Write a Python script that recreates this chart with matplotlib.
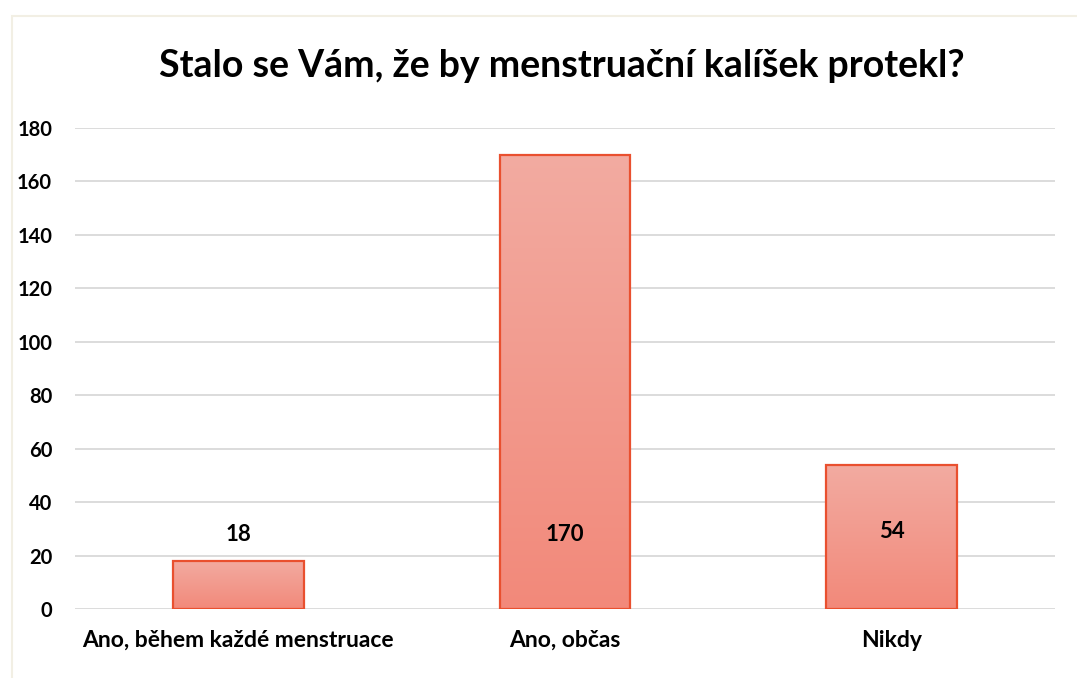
import numpy as np
import matplotlib
matplotlib.use("Agg")
import matplotlib.pyplot as plt
from matplotlib.patches import Rectangle
from matplotlib.colors import LinearSegmentedColormap

# data
categories = ["Ano, během každé menstruace", "Ano, občas", "Nikdy"]
counts = [18, 170, 54]
label_y = [27.7, 27.7, 29.0]   # where the value labels sit (data units)
yticks = [0, 20, 40, 60, 80, 100, 120, 140, 160, 180]

plt.rcParams['font.family'] = ['Lato', 'DejaVu Sans']

W, H = 1077, 678
fig = plt.figure(figsize=(W / 100, H / 100), dpi=100)

# thin frame around the chart area
fig.patches.append(Rectangle((12 / W, -0.1), 1.2, (H - 16) / H + 0.1,
                             transform=fig.transFigure, fill=False,
                             edgecolor="#F2EFE4", linewidth=1.5))

ax = fig.add_axes([75 / W, (H - 609) / H, (1055 - 75) / W, (609 - 128) / H])

x = np.arange(len(categories))
bars = ax.bar(x, counts, width=0.40, facecolor="none", edgecolor="#E9502F",
              linewidth=1.6, zorder=3)

cmap = LinearSegmentedColormap.from_list("sal", ["#F2897A", "#F3ABA1"])
grad = np.linspace(0, 1, 256).reshape(-1, 1)
for b in bars:
    x0, y0 = b.get_x(), b.get_y()
    im = ax.imshow(grad, cmap=cmap, origin="lower", aspect="auto",
                   extent=[x0, x0 + b.get_width(), y0, y0 + b.get_height()],
                   zorder=2)
    im.set_clip_path(b)

for xi, yl, v in zip(x, label_y, counts):
    ax.text(xi, yl, str(v), ha="center", va="center", fontsize=16,
            fontweight="bold", color="black", zorder=4)

ax.set_xlim(-0.5, len(categories) - 0.5)
ax.set_ylim(0, 180)
ax.set_yticks(yticks)
ax.set_xticks(x)
ax.set_xticklabels(categories, fontsize=16.5, fontweight="bold")
for t in ax.get_yticklabels():
    t.set_fontsize(14.5)
    t.set_fontweight("bold")
ax.tick_params(axis="y", length=0, pad=16.5)
ax.tick_params(axis="x", length=0, pad=15)

ax.grid(axis="y", color="#D9D9D9", linewidth=1.3, zorder=0)
ax.set_axisbelow(True)
for s in ax.spines.values():
    s.set_visible(False)

fig.text(562 / W, (H - 66) / H, "Stalo se Vám, že by menstruační kalíšek protekl?",
         ha="center", va="center", fontsize=27, fontweight="bold")

fig.savefig("out.png", dpi=100)
